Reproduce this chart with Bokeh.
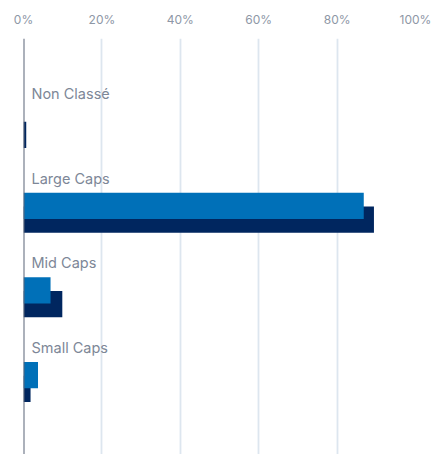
from bokeh.plotting import figure
from bokeh.models import Range1d, Span, FixedTicker, ColumnDataSource
from bokeh.core.properties import value
from bokeh.embed import file_html
from bokeh.resources import INLINE

categories = ["Non Classé", "Large Caps", "Mid Caps", "Small Caps"]
series_a = [0.0, 86.8, 6.9, 3.7]   # light blue
series_b = [0.7, 89.4, 9.9, 1.8]   # dark navy
ticks = [0, 20, 40, 60, 80, 100]
tick_labels = ["0%", "20%", "40%", "60%", "80%", "100%"]

LIGHT = "#0070B8"
DARK = "#00265F"
FONT = "Inter"

idx = list(range(len(categories)))
src = ColumnDataSource(dict(
    cat=categories,
    a=series_a,
    b=series_b,
    y_label=[i + 0.65 for i in idx],
    y_a=[i + 0.975 for i in idx],
    y_b=[i + 1.137 for i in idx],
    zero=[0] * len(idx),
))

p = figure(width=432, height=454, output_backend="svg", toolbar_location=None,
           x_range=Range1d(0, 100), y_range=Range1d(416 / 84.7, 0),
           x_axis_location="above", min_border_left=23, min_border_right=17,
           min_border_top=38, min_border_bottom=0)
p.outline_line_color = None
p.yaxis.visible = False
p.ygrid.grid_line_color = None
p.xgrid.grid_line_color = "#DDE6EF"
p.xgrid.grid_line_width = 1.8

ax = p.xaxis[0]
ax.ticker = FixedTicker(ticks=ticks)
ax.major_label_overrides = {t: l for t, l in zip(ticks, tick_labels)}
ax.axis_line_color = None
ax.major_tick_line_color = None
ax.minor_tick_line_color = None
ax.major_label_text_font = FONT
ax.major_label_text_font_size = "12px"
ax.major_label_text_color = "#8E97A6"
ax.major_label_standoff = 6

p.hbar(y="y_b", left="zero", right="b", height=0.31, source=src,
       fill_color=DARK, line_color=None)
p.hbar(y="y_a", left="zero", right="a", height=0.31, source=src,
       fill_color=LIGHT, line_color=None)

p.add_layout(Span(location=0, dimension="height", line_color="#5A6478", line_width=2))

p.text(x="zero", y="y_label", text="cat", source=src, x_offset=8,
       text_font=value(FONT), text_font_size="14.5px", text_color="#7D8797",
       text_align="left", text_baseline="middle")

open("out.html", "w").write(file_html(p, INLINE))
